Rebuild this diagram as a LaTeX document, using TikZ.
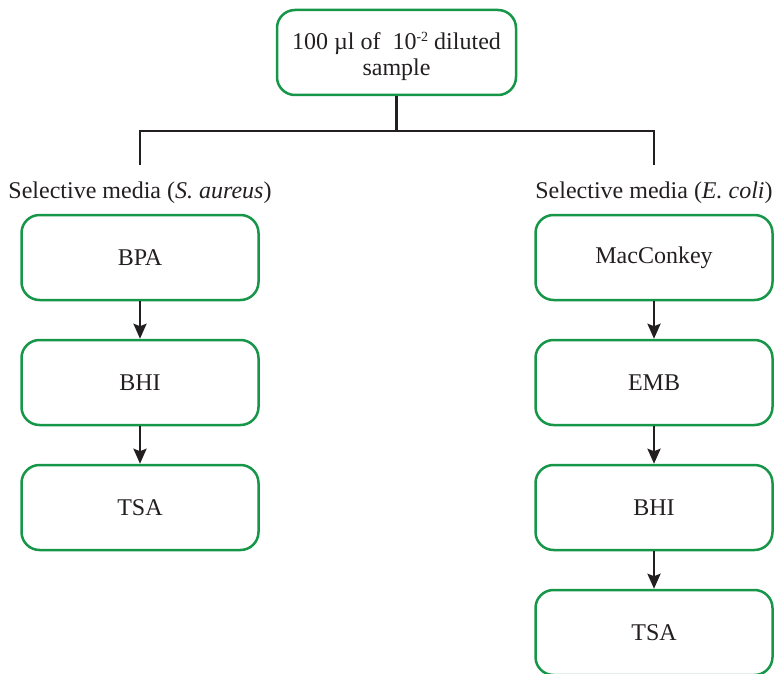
\documentclass[tikz,border=0pt]{standalone}
\usepackage{fontspec}
\setmainfont{Liberation Serif}
\usetikzlibrary{arrows.meta}
\definecolor{boxgreen}{RGB}{22,150,72}
\definecolor{linkgray}{RGB}{35,31,32}
\begin{document}
\begin{tikzpicture}[x=1pt,y=-1pt,
  medbox/.style={draw=boxgreen, line width=2.5pt, rounded corners=18pt,
    minimum width=237pt, minimum height=85pt, inner sep=0pt,
    text=linkgray, font=\fontsize{24}{26}\selectfont},
  grouplbl/.style={text=linkgray, font=\fontsize{24}{27}\selectfont},
  link/.style={draw=linkgray, line width=2.5pt},
  flow/.style={link, -{Stealth[length=15pt,width=13pt,inset=2.5pt]}}]
  \useasboundingbox (0,0) rectangle (774,674);
  \clip (0,0) rectangle (774,674);

  % sample
  \node[medbox, minimum width=239pt, align=center] (sample) at (396.5,52.5)
    {\rule{0pt}{25pt}100 µl of\ \ 10\raisebox{0.75ex}{\fontsize{14}{14}\selectfont -2} diluted\\sample};

  % S. aureus branch
  \node[grouplbl] (saureus) at (140,193) {Selective media (\textit{S. aureus})};
  \node[medbox] (bpa)  at (140,257.5) {BPA};
  \node[medbox] (bhiL) at (140,382.5) {BHI};
  \node[medbox] (tsaL) at (140,507.5) {TSA};

  % E. coli branch
  \node[grouplbl] (ecoli) at (654,193) {Selective media (\textit{E. coli})};
  \node[medbox] (mac)  at (654,257.5) {MacConkey};
  \node[medbox] (emb)  at (654,382.5) {EMB};
  \node[medbox] (bhiR) at (654,507.5) {BHI};
  \node[medbox] (tsaR) at (654,632.5) {TSA};

  % fork
  \coordinate (forkL) at (140,165);
  \coordinate (forkR) at (654,165);
  \draw[link] (sample.south) -- ++(0,35) -| (forkL);
  \draw[link] (sample.south) ++(0,35) -| (forkR);

  \foreach \a/\b in {bpa/bhiL, bhiL/tsaL, mac/emb, emb/bhiR, bhiR/tsaR}
    \draw[flow] (\a) -- (\b);
\end{tikzpicture}
\end{document}
